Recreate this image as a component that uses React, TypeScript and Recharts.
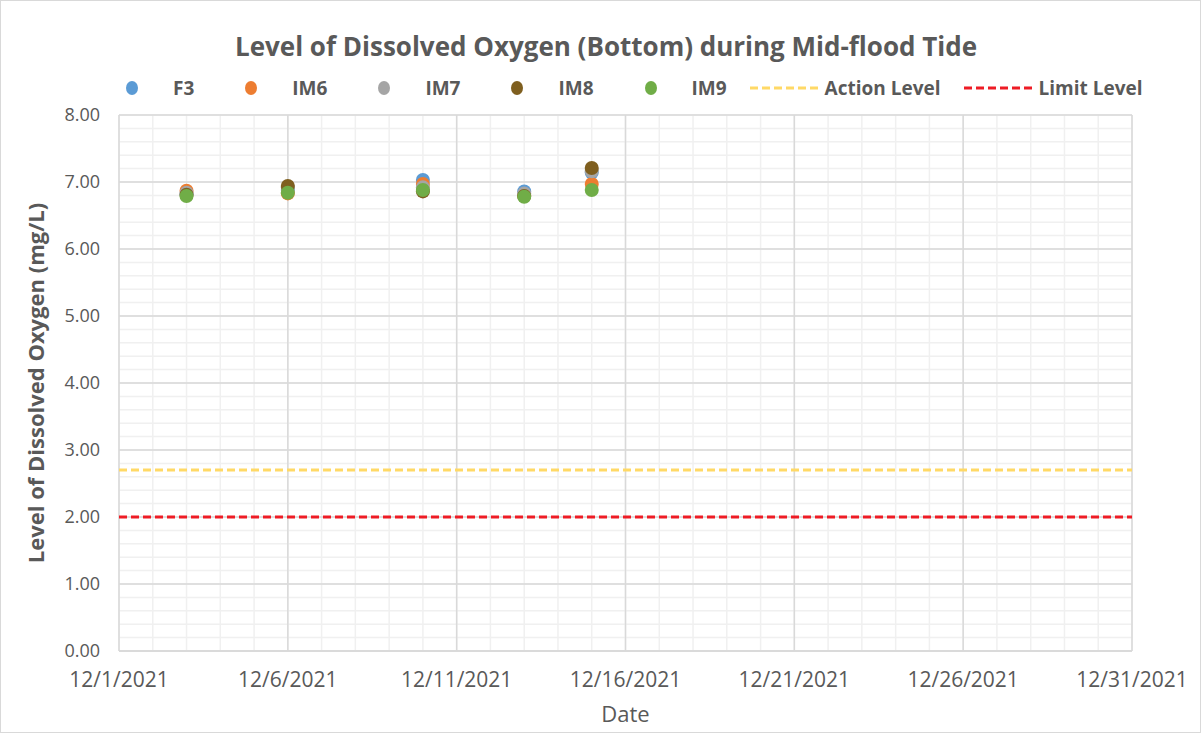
import {
  ScatterChart,
  Scatter,
  XAxis,
  YAxis,
  CartesianGrid,
  ReferenceLine,
  Label,
} from "recharts";

const dates = ["12/3/2021", "12/6/2021", "12/10/2021", "12/13/2021", "12/15/2021"];
const f3 = [6.82, 6.88, 7.03, 6.86, 7.14];
const im6 = [6.87, 6.83, 6.97, 6.8, 6.97];
const im7 = [6.84, 6.92, 6.92, 6.83, 7.16];
const im8 = [6.81, 6.94, 6.86, 6.79, 7.21];
const im9 = [6.79, 6.84, 6.88, 6.78, 6.88];

const actionLevel = 2.7;
const limitLevel = 2.0;

const xTicks = ["12/1/2021", "12/6/2021", "12/11/2021", "12/16/2021", "12/21/2021", "12/26/2021", "12/31/2021"];
const yTicks = [0, 1, 2, 3, 4, 5, 6, 7, 8];

const TEXT = "#595959";
const FONT = "'Open Sans', sans-serif";

const dayOf = (d: string) => Number(d.split("/")[1]);

const minorDays = Array.from({ length: 31 }, (_, i) => i + 1);
const minorY = Array.from({ length: 41 }, (_, i) => Math.round(i * 2) / 10);

const series = [
  { name: "F3", values: f3, color: "#5b9bd5" },
  { name: "IM6", values: im6, color: "#ed7d31" },
  { name: "IM7", values: im7, color: "#a5a5a5" },
  { name: "IM8", values: im8, color: "#7f5f1f" },
  { name: "IM9", values: im9, color: "#70ad47" },
];

const toPoints = (values: number[]) =>
  dates.map((d, i) => ({ x: dayOf(d), y: values[i] }));

function Dot(props: any) {
  const { cx, cy, fill } = props;
  return <circle cx={cx} cy={cy} r={7} fill={fill} />;
}

function ChartLegend() {
  const items = [
    ...series.map((s) => ({ name: s.name, color: s.color, line: false })),
    { name: "Action Level", color: "#ffd966", line: true },
    { name: "Limit Level", color: "#ee1c25", line: true },
  ];
  return (
    <div
      style={{
        position: "absolute",
        left: 96,
        top: 74,
        display: "flex",
        alignItems: "center",
        gap: 22,
        fontFamily: FONT,
        fontWeight: 700,
        fontSize: 19,
        color: TEXT,
      }}
    >
      {items.map((it) => (
        <div key={it.name} style={{ display: "flex", alignItems: "center", gap: 6 }}>
          <svg width={70} height={20}>
            {it.line ? (
              <line x1={1} y1={10} x2={69} y2={10} stroke={it.color} strokeWidth={3} strokeDasharray="8 4" />
            ) : (
              <ellipse cx={35} cy={10} rx={6} ry={7} fill={it.color} />
            )}
          </svg>
          <span>{it.name}</span>
        </div>
      ))}
    </div>
  );
}

export default function App() {
  return (
    <div
      style={{
        position: "absolute",
        left: 0,
        top: 0,
        width: 1201,
        height: 733,
        border: "1px solid #d9d9d9",
        boxSizing: "border-box",
        background: "#fff",
      }}
    >
      <div
        style={{
          position: "absolute",
          left: 0,
          top: 27,
          width: 1210,
          textAlign: "center",
          fontFamily: FONT,
          fontWeight: 700,
          fontSize: 26,
          color: TEXT,
        }}
      >
        Level of Dissolved Oxygen (Bottom) during Mid-flood Tide
      </div>
      <ChartLegend />
      <ScatterChart
        width={1203}
        height={733}
        margin={{ top: 115, right: 71, bottom: 32, left: 59 }}
        style={{ position: "absolute", left: -1, top: -1 }}
      >
        <CartesianGrid
          stroke="#f0f0f0"
          strokeWidth={1.5}
          verticalValues={minorDays}
          horizontalValues={minorY}
        />
        <CartesianGrid stroke="#d9d9d9" strokeWidth={1.5} />
        <XAxis
          type="number"
          dataKey="x"
          domain={[1, 31]}
          ticks={xTicks.map(dayOf)}
          tickFormatter={(v: number) => `12/${v}/2021`}
          height={50}
          tickLine={false}
          tickSize={0}
          tickMargin={21}
          axisLine={{ stroke: "#d9d9d9", strokeWidth: 1.5 }}
          tick={{ fill: TEXT, fontSize: 21, fontFamily: FONT }}
          interval={0}
        >
          <Label
            value="Date"
            position="bottom"
            offset={5}
            style={{ fill: TEXT, fontSize: 22, fontFamily: FONT }}
          />
        </XAxis>
        <YAxis
          type="number"
          dataKey="y"
          domain={[0, 8]}
          ticks={yTicks}
          tickFormatter={(v: number) => v.toFixed(2)}
          width={60}
          tickLine={false}
          tickSize={0}
          tickMargin={19}
          axisLine={false}
          tick={{ fill: TEXT, fontSize: 18, fontFamily: FONT }}
          interval={0}
        >
          <Label
            content={(p: any) => {
              const vb = p.viewBox || {};
              const cx = vb.x - 24;
              const cy = vb.y + vb.height / 2;
              return (
                <text
                  x={cx}
                  y={cy}
                  transform={`rotate(-90 ${cx} ${cy})`}
                  textAnchor="middle"
                  dominantBaseline="central"
                  fill={TEXT}
                  fontSize={22}
                  fontWeight={700}
                  fontFamily={FONT}
                >
                  Level of Dissolved Oxygen (mg/L)
                </text>
              );
            }}
          />
        </YAxis>
        <ReferenceLine y={actionLevel} stroke="#ffd966" strokeWidth={3} strokeDasharray="8 4" />
        <ReferenceLine y={limitLevel} stroke="#ee1c25" strokeWidth={3} strokeDasharray="8 4" />
        {series.map((s) => (
          <Scatter
            key={s.name}
            name={s.name}
            data={toPoints(s.values)}
            fill={s.color}
            shape={Dot}
            isAnimationActive={false}
          />
        ))}
      </ScatterChart>
    </div>
  );
}
